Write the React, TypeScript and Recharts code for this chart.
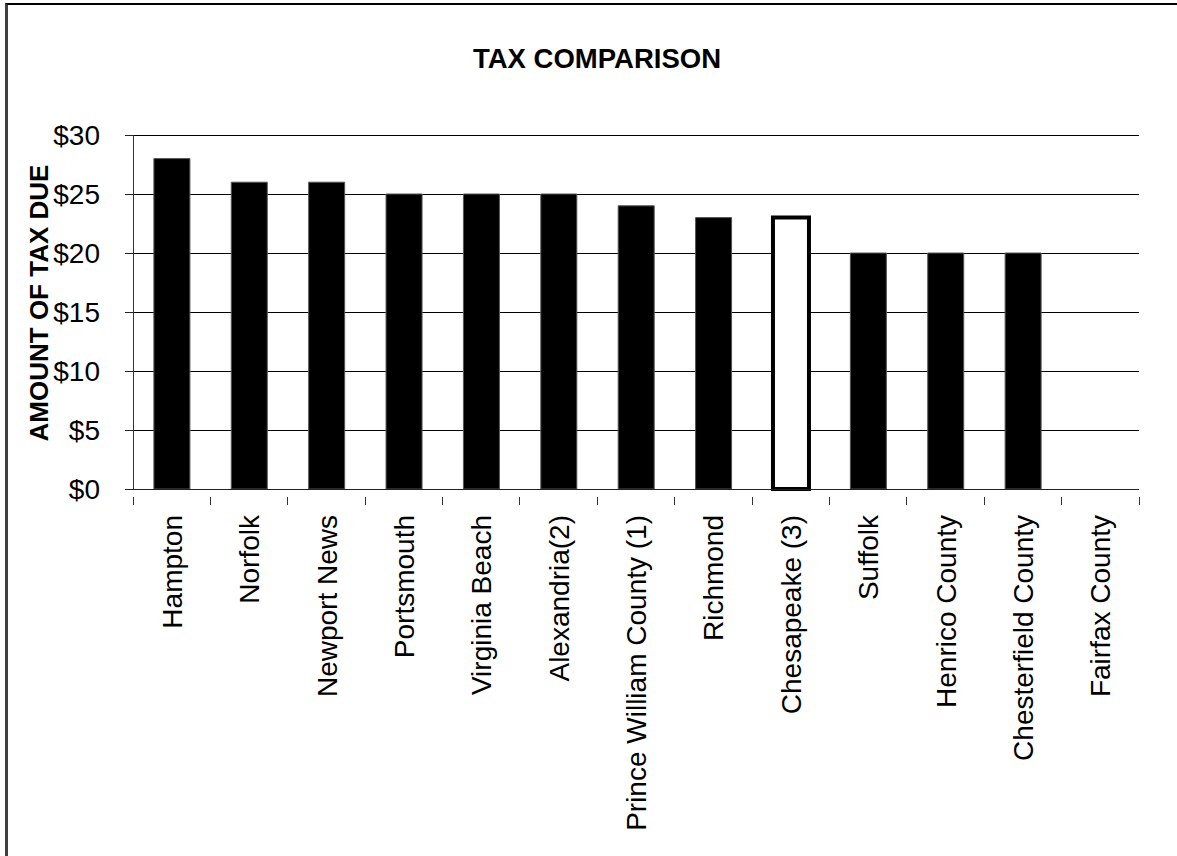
import { Bar, BarChart, CartesianGrid, Cell, XAxis, YAxis } from "recharts"

const categories = [
  "Hampton",
  "Norfolk",
  "Newport News",
  "Portsmouth",
  "Virginia Beach",
  "Alexandria(2)",
  "Prince William County (1)",
  "Richmond",
  "Chesapeake (3)",
  "Suffolk",
  "Henrico County",
  "Chesterfield County",
  "Fairfax County",
]
const taxDue = [28, 26, 26, 25, 25, 25, 24, 23, 23, 20, 20, 20, 0]
const highlighted = "Chesapeake (3)"
const yTicks = [0, 5, 10, 15, 20, 25, 30]

const data = categories.map((name, i) => ({ name, tax: taxDue[i] }))

const W = 1177
const H = 856
const PLOT_LEFT = 133
const PLOT_RIGHT = 38
const BAND = (W - PLOT_LEFT - PLOT_RIGHT) / categories.length
const FONT = "'Liberation Sans', Arial, sans-serif"

function CategoryTick(props: any) {
  const { x, y, payload, index } = props
  const last = index === categories.length - 1
  return (
    <g>
      <line x1={x - BAND / 2} x2={x - BAND / 2} y1={y} y2={y + 8} stroke="#333" />
      {last && <line x1={x + BAND / 2} x2={x + BAND / 2} y1={y} y2={y + 8} stroke="#333" />}
      <text
        transform={`translate(${x},${y + 18}) rotate(-90)`}
        textAnchor="end"
        dy="0.36em"
        fontSize={28}
        fontFamily={FONT}
        fill="#000"
      >
        {payload.value}
      </text>
    </g>
  )
}

function YTitle(props: any) {
  const { viewBox } = props
  const cx = 39
  const cy = viewBox.y + viewBox.height / 2 - 9
  return (
    <text
      transform={`translate(${cx},${cy}) rotate(-90)`}
      textAnchor="middle"
      dy="0.36em"
      fontSize={26}
      fontWeight="bold"
      fontFamily={FONT}
      fill="#000"
    >
      AMOUNT OF TAX DUE
    </text>
  )
}

export default function App() {
  return (
    <div style={{ position: "absolute", left: 0, top: 0, width: W, height: H, background: "#fff", overflow: "hidden" }}>
      <style>{`svg line { shape-rendering: crispEdges; }`}</style>
      <div
        style={{
          position: "absolute",
          left: 5,
          top: 3,
          width: W,
          height: H,
          borderLeft: "3px solid #404040",
          borderTop: "2px solid #000",
        }}
      />
      <div
        style={{
          position: "absolute",
          left: 397,
          top: 45,
          width: 400,
          textAlign: "center",
          fontFamily: FONT,
          fontWeight: "bold",
          fontSize: 27.5,
          lineHeight: "27px",
        }}
      >
        TAX COMPARISON
      </div>
      <div style={{ position: "absolute", left: 0, top: 0 }}>
        <BarChart
          width={W}
          height={H}
          data={data}
          margin={{ top: 135, right: PLOT_RIGHT, bottom: 67, left: 0 }}
          barCategoryGap="27%"
        >
          <CartesianGrid vertical={false} stroke="#000" strokeWidth={1} />
          <XAxis
            dataKey="name"
            interval={0}
            height={300}
            tickLine={false}
            axisLine={{ stroke: "#222" }}
            tick={<CategoryTick />}
          />
          <XAxis xAxisId="top" orientation="top" dataKey="name" height={0} tick={false} tickLine={false} axisLine={{ stroke: "#8c8c8c", strokeWidth: 2 }} />
          <YAxis
            domain={[0, 30]}
            ticks={yTicks}
            width={PLOT_LEFT}
            tickSize={8}
            tickMargin={25}
            tickLine={{ stroke: "#222" }}
            axisLine={{ stroke: "#333" }}
            tick={{ fontSize: 28, fill: "#000", fontFamily: FONT }}
            tickFormatter={(v) => `$${v}`}
            label={<YTitle />}
          />
          <YAxis yAxisId="right" orientation="right" width={0} domain={[0, 30]} tick={false} tickLine={false} axisLine={{ stroke: "#8c8c8c", strokeWidth: 2 }} />
          <Bar dataKey="tax" isAnimationActive={false}>
            {data.map((d) =>
              d.name === highlighted ? (
                <Cell key={d.name} fill="#fff" stroke="#000" strokeWidth={4} />
              ) : (
                <Cell key={d.name} fill="#000" stroke="#555" strokeWidth={1} />
              )
            )}
          </Bar>
        </BarChart>
      </div>
    </div>
  )
}
